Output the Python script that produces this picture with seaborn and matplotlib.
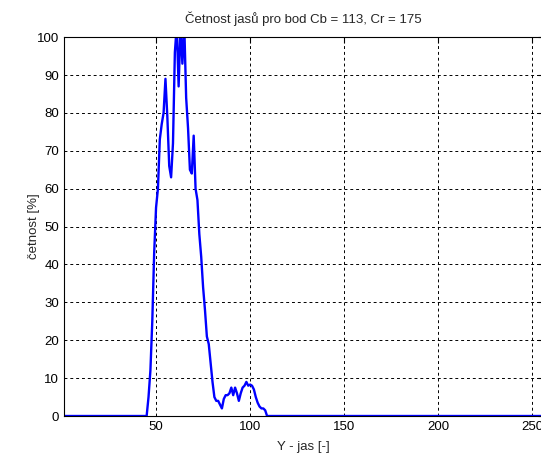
"""Četnost jasů - histogram for one Cb/Cr point
"""
import numpy as np
import pandas as pd
import seaborn as sns
import matplotlib.pyplot as plt

# brightness values Y = 1..256, counts
jas = np.arange(1, 257)
start_nonzero = 46
cetnost_nonzero = [
    5, 12, 25, 43, 55, 60, 73, 77, 80, 89,        # 46-55
    79, 66, 63, 72, 96, 103, 87, 103, 93, 103,    # 56-65
    84, 76, 65, 64, 74, 60, 57, 48, 42, 34,       # 66-75
    28, 21, 19, 14, 9, 5, 4, 4, 3, 2,             # 76-85
    4.5, 5.5, 5.5, 6, 7.5, 5.5, 7.5, 6, 4, 6,     # 86-95
    7.5, 8, 9, 8, 8.3, 8, 7, 5, 3.5, 2.5,         # 96-105
    2, 2, 1.5,                                    # 106-107
]
cetnost = np.zeros(jas.size)
cetnost[start_nonzero - 1:start_nonzero - 1 + len(cetnost_nonzero)] = cetnost_nonzero

df = pd.DataFrame({'jas': jas, 'cetnost': cetnost})

sns.set_style('white')
plt.rcParams['font.family'] = ['Liberation Sans', 'DejaVu Sans']
plt.rcParams['font.size'] = 9.5

fig = plt.figure(figsize=(5.41, 4.57), dpi=100)
# right edge of the axes sits just past the picture, as in the original crop
ax = fig.add_axes([0.118, 0.0897, 0.887, 0.829])

sns.lineplot(data=df, x='jas', y='cetnost', ax=ax, color='#0000ff', linewidth=1.7)

ax.set_xlim(1, 256)
ax.set_ylim(0, 100)
ax.set_xticks([50, 100, 150, 200, 250])
ax.set_yticks(np.arange(0, 101, 10))
ax.grid(True, color='black', linestyle=(0, (3, 3)), linewidth=0.7)
ax.tick_params(direction='in', length=4, top=True, right=True, colors='black', labelsize=9.5)
for s in ax.spines.values():
    s.set_color('black')
    s.set_linewidth(0.8)

ax.set_title('Četnost jasů pro bod Cb = 113, Cr = 175', fontsize=9.5, pad=10)
ax.set_xlabel('Y - jas [-]', fontsize=9.5, labelpad=6)
ax.set_ylabel('četnost [%]', fontsize=9.5, labelpad=-2)

fig.savefig('out.png', dpi=100)
